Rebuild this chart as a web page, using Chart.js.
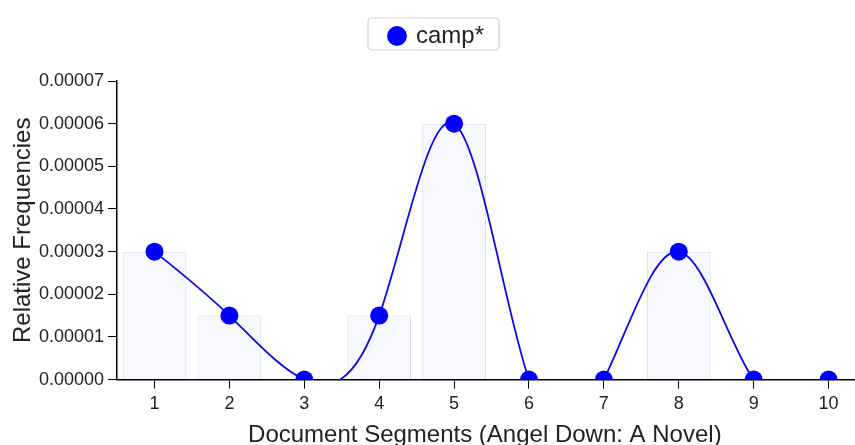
<!DOCTYPE html>
<html>
<head>
<meta charset="utf-8">
<script src="https://cdn.jsdelivr.net/npm/chart.js@4.4.1/dist/chart.umd.min.js"></script>
<style>
  html, body { margin: 0; padding: 0; background: #fff; overflow: hidden; }
  canvas { display: block; }
</style>
</head>
<body>
<canvas id="graficoSegmentos" width="866" height="450"></canvas>
<script>
// datos del grafico
const segmentos = ['1', '2', '3', '4', '5', '6', '7', '8', '9', '10'];
const frecuenciasCamp = [0.00003, 0.000015, 0, 0.000015, 0.00006, 0, 0, 0.00003, 0, 0];
const yTicks = [0, 0.00001, 0.00002, 0.00003, 0.00004, 0.00005, 0.00006, 0.00007];
const etiquetaSerie = 'camp*';
const tituloX = 'Document Segments (Angel Down: A Novel)';
const tituloY = 'Relative Frequencies';

const fuente = "'Liberation Sans', Arial, sans-serif";

// curva natural (spline cubico) sobre los puntos que calcula Chart.js
const curvaNatural = {
  id: 'curvaNatural',
  beforeDatasetDraw(chart, args) {
    const meta = args.meta;
    if (meta.type !== 'line') return;
    meta.dataset.updateControlPoints(chart.chartArea, 'x');
    const pts = meta.data;
    const n = pts.length;
    const y = pts.map(p => p.y);
    const M = new Array(n).fill(0);
    // sistema tridiagonal (Thomas)
    const c = new Array(n).fill(0), d = new Array(n).fill(0);
    for (let i = 1; i < n - 1; i++) {
      const r = 6 * (y[i + 1] - 2 * y[i] + y[i - 1]);
      const den = 4 - (i > 1 ? c[i - 1] : 0);
      c[i] = 1 / den;
      d[i] = (r - (i > 1 ? d[i - 1] : 0)) / den;
    }
    for (let i = n - 2; i >= 1; i--) {
      M[i] = d[i] - c[i] * (i < n - 2 ? M[i + 1] : 0);
    }
    for (let i = 0; i < n - 1; i++) {
      const a = pts[i], b = pts[i + 1];
      const dy = y[i + 1] - y[i];
      const d0 = dy - (2 * M[i] + M[i + 1]) / 6;
      const d1 = dy + (M[i] + 2 * M[i + 1]) / 6;
      const dx = (b.x - a.x) / 3;
      a.cp2x = a.x + dx; a.cp2y = a.y + d0 / 3;
      b.cp1x = b.x - dx; b.cp1y = b.y - d1 / 3;
    }
  }
};

// marco alrededor de la leyenda
const marcoLeyenda = {
  id: 'marcoLeyenda',
  beforeInit(chart) {
    const fitOriginal = chart.legend.fit;
    chart.legend.fit = function () {
      fitOriginal.bind(chart.legend)();
      this.height += 23;
    };
  },
  afterDraw(chart) {
    const caja = chart.legend.legendHitBoxes[0];
    if (!caja) return;
    const ctx = chart.ctx;
    ctx.save();
    ctx.strokeStyle = '#cfcfcf';
    ctx.lineWidth = 1.2;
    ctx.beginPath();
    ctx.roundRect(caja.left - 22, caja.top - 6, caja.width + 37, 32, 4);
    ctx.stroke();
    ctx.restore();
  }
};

const ctx = document.getElementById('graficoSegmentos');
const grafico = new Chart(ctx, {
  type: 'bar',
  data: {
    labels: segmentos,
    datasets: [{
      type: 'line',
      label: etiquetaSerie,
      data: frecuenciasCamp,
      borderColor: '#0a0ae6',
      backgroundColor: '#0000ff',
      borderWidth: 1.8,
      pointRadius: 9,
      pointBackgroundColor: '#0000ff',
      pointBorderWidth: 0,
      tension: 0.4,
      capBezierPoints: false,
      clip: 0,
      order: 0
    }, {
      type: 'bar',
      label: 'barras',
      data: frecuenciasCamp,
      backgroundColor: '#f7f7fe',
      borderColor: '#d8d8f6',
      borderWidth: 1,
      barPercentage: 0.85,
      categoryPercentage: 1,
      order: 1
    }]
  },
  options: {
    responsive: false,
    animation: false,
    layout: { padding: { left: 8, right: 0, top: 14, bottom: 0 } },
    plugins: {
      tooltip: { enabled: false },
      legend: {
        position: 'top',
        labels: {
          usePointStyle: true,
          pointStyle: 'circle',
          boxWidth: 14,
          boxHeight: 14,
          color: '#222',
          font: { family: fuente, size: 24 },
          filter: item => item.datasetIndex === 0
        }
      }
    },
    scales: {
      x: {
        offset: true,
        afterFit: eje => { eje.paddingRight = 0; },
        grid: { display: true, drawOnChartArea: false, drawTicks: true, tickLength: 9, color: '#000', offset: false },
        border: { display: true, color: '#000', width: 1.5 },
        ticks: { color: '#222', padding: 5, font: { family: fuente, size: 18 } },
        // dos espacios al final: el titulo queda un poco a la izquierda como en el original
        title: { display: true, text: tituloX + '\u00a0\u00a0', color: '#222', padding: { top: 1, bottom: 0 }, font: { family: fuente, size: 24 } }
      },
      y: {
        min: 0,
        max: 0.00007,
        afterBuildTicks: axis => { axis.ticks = yTicks.map(v => ({ value: v })); },
        grid: { display: true, drawOnChartArea: false, drawTicks: true, tickLength: 9, color: '#000' },
        border: { display: true, color: '#000', width: 1.5 },
        ticks: { color: '#222', padding: 4, font: { family: fuente, size: 18 }, callback: v => Number(v).toFixed(5) },
        title: { display: true, text: tituloY, color: '#222', padding: { top: 3, bottom: 0 }, font: { family: fuente, size: 24, lineHeight: 1.0 } }
      }
    }
  },
  plugins: [curvaNatural, marcoLeyenda]
});

// el eje x llega hasta el borde derecho, sin margen extra por los puntos
grafico.getDatasetMeta(0).controller.getMaxOverflow = () => 0;
grafico.update();
</script>
</body>
</html>
